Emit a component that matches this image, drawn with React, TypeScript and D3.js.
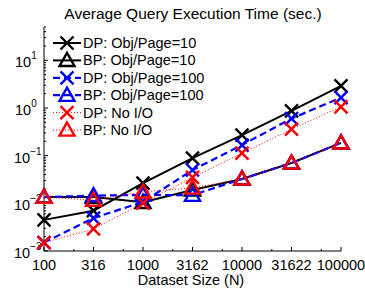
import { useEffect, useRef } from "react";
import * as d3 from "d3";

const datasetSizes = [100, 316, 1000, 3162, 10000, 31622, 100000];
const xTickLabels = ["100", "316", "1000", "3162", "10000", "31622", "100000"];
const yTickExponents = [-3, -2, -1, 0, 1];

const dpObj10 = [0.0045, 0.007, 0.0266, 0.089, 0.27, 0.87, 2.9];
const bpObj10 = [0.0135, 0.0135, 0.0105, 0.019, 0.0325, 0.07, 0.186];
const dpObj100 = [0.0015, 0.0049, 0.0107, 0.05, 0.167, 0.6, 1.65];
const bpObj100 = [0.0135, 0.0145, 0.015, 0.0148, 0.0325, 0.07, 0.186];
const dpNoIO = [0.0015, 0.0029, 0.0101, 0.035, 0.113, 0.36, 1.06];
const bpNoIO = [0.0135, 0.0117, 0.0174, 0.021, 0.0325, 0.07, 0.186];

const seriesNames = [
  "DP: Obj/Page=10",
  "BP: Obj/Page=10",
  "DP: Obj/Page=100",
  "BP: Obj/Page=100",
  "DP: No I/O",
  "BP: No I/O",
];

export default function App() {
  const chartRef = useRef<SVGSVGElement>(null);

  useEffect(() => {
    if (!chartRef.current) return;
    d3.select(chartRef.current).selectAll("*").remove();

    const width = 365;
    const height = 294;
    const margin = { top: 27, right: 24, bottom: 43, left: 44 };
    const font = "'Liberation Sans', Arial, sans-serif";

    const series = [
      { name: seriesNames[0], values: dpObj10, color: "#000", marker: "x", dash: null, lw: 2 },
      { name: seriesNames[1], values: bpObj10, color: "#000", marker: "tri", dash: null, lw: 2 },
      { name: seriesNames[2], values: dpObj100, color: "#0000ff", marker: "x", dash: "7,4", lw: 2.2 },
      { name: seriesNames[3], values: bpObj100, color: "#0000ff", marker: "tri", dash: "7,4", lw: 2.2 },
      { name: seriesNames[4], values: dpNoIO, color: "#ff0000", marker: "x", dash: "1,2", lw: 1 },
      { name: seriesNames[5], values: bpNoIO, color: "#ff0000", marker: "tri", dash: "1,2", lw: 1 },
    ];

    const svg = d3
      .select(chartRef.current)
      .attr("width", width)
      .attr("height", height)
      .style("font-family", font);

    svg.append("rect").attr("width", width).attr("height", height).attr("fill", "#fff");

    const x = d3
      .scaleLog()
      .domain([100, 100000])
      .range([margin.left, width - margin.right]);

    const y = d3
      .scaleLog()
      .domain([0.001, 50])
      .range([height - margin.bottom, margin.top]);

    const x0 = margin.left;
    const y0 = height - margin.bottom;

    // axes lines
    svg
      .append("path")
      .attr("d", `M${x0},${margin.top}V${y0}H${width - margin.right}`)
      .attr("fill", "none")
      .attr("stroke", "#000")
      .attr("stroke-width", 1);

    // x ticks (major + 2x minor)
    datasetSizes.forEach((v, i) => {
      svg
        .append("line")
        .attr("x1", x(v))
        .attr("x2", x(v))
        .attr("y1", y0)
        .attr("y2", y0 - 4)
        .attr("stroke", "#000");
      if (i < datasetSizes.length - 1) {
        svg
          .append("line")
          .attr("x1", x(v * 2))
          .attr("x2", x(v * 2))
          .attr("y1", y0)
          .attr("y2", y0 - 2)
          .attr("stroke", "#000");
      }
      svg
        .append("text")
        .attr("x", x(v))
        .attr("y", 270)
        .attr("text-anchor", "middle")
        .style("font-size", "14.5px")
        .text(xTickLabels[i]);
    });

    // y ticks
    const minorY: number[] = [];
    for (let e = -3; e <= 1; e++) {
      for (let m = 2; m <= 9; m++) {
        const v = m * Math.pow(10, e);
        if (v <= 50) minorY.push(v);
      }
    }
    minorY.forEach((v) => {
      svg
        .append("line")
        .attr("x1", x0)
        .attr("x2", x0 + 2)
        .attr("y1", y(v))
        .attr("y2", y(v))
        .attr("stroke", "#000");
    });

    yTickExponents.forEach((e) => {
      const v = Math.pow(10, e);
      svg
        .append("line")
        .attr("x1", x0)
        .attr("x2", x0 + 4)
        .attr("y1", y(v))
        .attr("y2", y(v))
        .attr("stroke", "#000");
      const label = svg
        .append("text")
        .attr("x", e < 0 ? 14 : 15)
        .attr("y", y(v) + 7)
        .style("font-size", "14.5px");
      label.append("tspan").text("10");
      label
        .append("tspan")
        .attr("dy", -8)
        .style("font-size", "10px")
        .text(e < 0 ? "\u2212" + Math.abs(e) : String(e));
    });

    const drawMarker = (
      g: d3.Selection<SVGGElement, unknown, null, undefined>,
      cx: number,
      cy: number,
      kind: string,
      color: string
    ) => {
      if (kind === "x") {
        const s = 6.5;
        g.append("path")
          .attr("d", `M${cx - s},${cy - s}L${cx + s},${cy + s}M${cx - s},${cy + s}L${cx + s},${cy - s}`)
          .attr("stroke", color)
          .attr("stroke-width", 2.4)
          .attr("fill", "none");
      } else {
        const s = 7.5;
        g.append("path")
          .attr("d", `M${cx},${cy - s}L${cx + s},${cy + s * 0.75}L${cx - s},${cy + s * 0.75}Z`)
          .attr("stroke", color)
          .attr("stroke-width", 2.4)
          .attr("fill", "none");
      }
    };

    const line = d3
      .line<number>()
      .x((_, i) => x(datasetSizes[i]))
      .y((d) => y(d));

    series.forEach((s) => {
      const g = svg.append("g");
      g.append("path")
        .attr("d", line(s.values))
        .attr("fill", "none")
        .attr("stroke", s.color)
        .attr("stroke-width", s.lw)
        .attr("stroke-dasharray", s.dash);
      s.values.forEach((v, i) => drawMarker(g, x(datasetSizes[i]), y(v), s.marker, s.color));
    });

    // legend
    const legend = svg.append("g");
    series.forEach((s, i) => {
      const ly = 43 + i * 17.4;
      legend
        .append("line")
        .attr("x1", 53)
        .attr("x2", 81)
        .attr("y1", ly)
        .attr("y2", ly)
        .attr("stroke", s.color)
        .attr("stroke-width", s.lw)
        .attr("stroke-dasharray", s.dash);
      drawMarker(legend, 67, ly, s.marker, s.color);
      legend
        .append("text")
        .attr("x", 83)
        .attr("y", ly + 5)
        .style("font-size", "14.5px")
        .text(s.name);
    });

    // title
    svg
      .append("text")
      .attr("x", 193)
      .attr("y", 19)
      .attr("text-anchor", "middle")
      .style("font-size", "15.5px")
      .text("Average Query Execution Time (sec.)");

    // x label
    svg
      .append("text")
      .attr("x", 191)
      .attr("y", 285)
      .attr("text-anchor", "middle")
      .style("font-size", "14.5px")
      .text("Dataset Size (N)");
  }, []);

  return (
    <svg
      ref={chartRef}
      style={{ position: "absolute", left: 0, top: 0, display: "block" }}
    ></svg>
  );
}
